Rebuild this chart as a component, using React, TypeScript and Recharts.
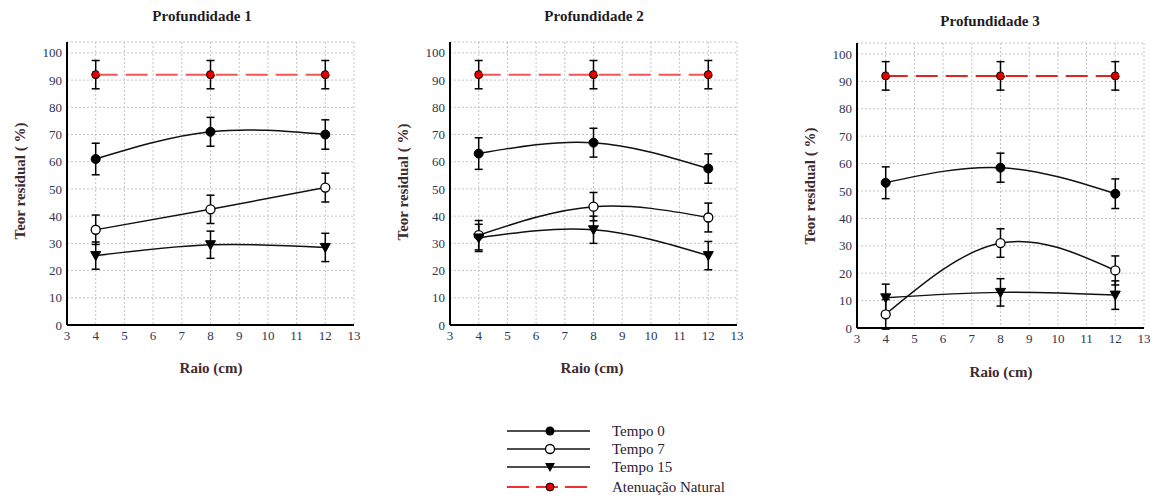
import { LineChart, Line, XAxis, YAxis, CartesianGrid, ErrorBar } from "recharts";

// raio (cm) where samples were taken
const RAIO = [4, 8, 12];

// Profundidade 1
const P1_T0 = [61, 71, 70];
const P1_T7 = [35, 42.5, 50.5];
const P1_T15 = [25.5, 29.5, 28.5];
const P1_AN = [92, 92, 92];

// Profundidade 2
const P2_T0 = [63, 67, 57.5];
const P2_T7 = [33, 43.5, 39.5];
const P2_T15 = [32, 35, 25.5];
const P2_AN = [92, 92, 92];

// Profundidade 3
const P3_T0 = [53, 58.5, 49];
const P3_T7 = [5, 31, 21];
const P3_T15 = [11, 13, 12];
const P3_AN = [92, 92, 92];

// error bar half-lengths
const ERR_T0 = [5.8, 5.3, 5.4];
const ERR_T7 = [5.4, 5.2, 5.3];
const ERR_T15 = [5, 5, 5.2];
const ERR_AN = [5.2, 5.2, 5.2];

const X_TICKS = [3, 4, 5, 6, 7, 8, 9, 10, 11, 12, 13];
const Y_TICKS = [0, 10, 20, 30, 40, 50, 60, 70, 80, 90, 100];
const X_MINOR = Array.from({ length: 51 }, (_, i) => 3 + i * 0.2);
const Y_MINOR = Array.from({ length: 53 }, (_, i) => i * 2);

const SERIF = "'Liberation Serif', 'Times New Roman', serif";
const TICK_COLOR = "#2e3550";
const LABEL_COLOR = "#3f2a2e";

function buildRows(t0: number[], t7: number[], t15: number[], an: number[]) {
  return RAIO.map((r, i) => ({
    raio: r,
    t0: t0[i],
    t0e: ERR_T0[i],
    t7: t7[i],
    t7e: ERR_T7[i],
    t15: t15[i],
    t15e: ERR_T15[i],
    an: an[i],
    ane: ERR_AN[i],
  }));
}

function TriangleDot(props: any) {
  const { cx, cy, index } = props;
  if (cx == null || cy == null) return <g key={`tri-${index}`} />;
  return (
    <path
      key={`tri-${index}`}
      d={`M${cx - 5},${cy - 4} L${cx + 5},${cy - 4} L${cx},${cy + 5} Z`}
      fill="#000"
      stroke="#000"
      strokeWidth={1}
    />
  );
}

interface PanelProps {
  title: string;
  rows: ReturnType<typeof buildRows>;
  left: number;
  top: number;
  height: number;
  marginTop: number;
  red: string;
  titleX: number;
  titleY: number;
  yLabelX: number;
  yLabelY: number;
  xLabelX: number;
  xLabelY: number;
}

function Panel(p: PanelProps) {
  const minorAxis = {
    type: "number" as const,
    domain: [3, 13],
    ticks: X_MINOR,
    interval: 0 as const,
    tick: false,
    tickSize: 3,
    mirror: true,
    height: 0,
    allowDataOverflow: true,
    axisLine: { stroke: "#000", strokeWidth: 2 },
    tickLine: { stroke: "#000", strokeWidth: 1 },
  };
  const minorY = {
    type: "number" as const,
    domain: [0, 104],
    ticks: Y_MINOR,
    interval: 0 as const,
    tick: false,
    tickSize: 3,
    mirror: true,
    width: 0,
    allowDataOverflow: true,
    axisLine: { stroke: "#000", strokeWidth: 2 },
    tickLine: { stroke: "#000", strokeWidth: 1 },
  };
  return (
    <>
      <div
        style={{
          position: "absolute",
          left: p.titleX,
          top: p.titleY,
          transform: "translate(-50%, -50%)",
          fontFamily: SERIF,
          fontWeight: "bold",
          fontSize: 15,
          color: "#1d1d24",
          whiteSpace: "nowrap",
        }}
      >
        {p.title}
      </div>
      <div
        style={{
          position: "absolute",
          left: p.yLabelX,
          top: p.yLabelY,
          transform: "translate(-50%, -50%) rotate(-90deg)",
          fontFamily: SERIF,
          fontWeight: "bold",
          fontSize: 15,
          color: LABEL_COLOR,
          whiteSpace: "nowrap",
        }}
      >
        Teor residual ( %)
      </div>
      <div
        style={{
          position: "absolute",
          left: p.xLabelX,
          top: p.xLabelY,
          transform: "translate(-50%, -50%)",
          fontFamily: SERIF,
          fontWeight: "bold",
          fontSize: 15,
          color: LABEL_COLOR,
          whiteSpace: "nowrap",
        }}
      >
        Raio (cm)
      </div>
      <div style={{ position: "absolute", left: p.left, top: p.top }}>
        <LineChart
          width={370}
          height={p.height}
          data={p.rows}
          margin={{ top: p.marginTop, right: 16, left: 20, bottom: 20 }}
        >
          <CartesianGrid stroke="#c4c4c4" strokeDasharray="2 2" />
          <XAxis
            dataKey="raio"
            type="number"
            domain={[3, 13]}
            ticks={X_TICKS}
            interval={0}
            height={45}
            tickSize={0}
            tickMargin={6}
            tickLine={false}
            axisLine={{ stroke: "#000", strokeWidth: 2 }}
            tick={{ fontSize: 13, fill: TICK_COLOR, fontFamily: SERIF }}
            allowDataOverflow
          />
          <YAxis
            type="number"
            domain={[0, 104]}
            ticks={Y_TICKS}
            interval={0}
            width={47}
            tickSize={0}
            tickMargin={5}
            tickLine={false}
            axisLine={{ stroke: "#000", strokeWidth: 2 }}
            tick={{ fontSize: 13, fill: TICK_COLOR, fontFamily: SERIF }}
            allowDataOverflow
          />
          <XAxis xAxisId="xb" orientation="bottom" {...minorAxis} />
          <XAxis xAxisId="xt" orientation="top" {...minorAxis} />
          <YAxis yAxisId="yl" orientation="left" {...minorY} />
          <YAxis yAxisId="yr" orientation="right" {...minorY} />

          <Line
            type="natural"
            dataKey="t0"
            stroke="#111"
            strokeWidth={1.5}
            dot={{ r: 4.5, fill: "#000", stroke: "#000", strokeWidth: 1 }}
            isAnimationActive={false}
          >
            <ErrorBar dataKey="t0e" direction="y" width={4} stroke="#000" strokeWidth={1.5} />
          </Line>
          <Line
            type="natural"
            dataKey="t7"
            stroke="#111"
            strokeWidth={1.5}
            dot={{ r: 4.5, fill: "#fff", stroke: "#000", strokeWidth: 1.3 }}
            isAnimationActive={false}
          >
            <ErrorBar dataKey="t7e" direction="y" width={4} stroke="#000" strokeWidth={1.5} />
          </Line>
          <Line
            type="natural"
            dataKey="t15"
            stroke="#111"
            strokeWidth={1.5}
            dot={TriangleDot}
            isAnimationActive={false}
          >
            <ErrorBar dataKey="t15e" direction="y" width={4} stroke="#000" strokeWidth={1.5} />
          </Line>
          <Line
            type="linear"
            dataKey="an"
            stroke={p.red}
            strokeWidth={2}
            strokeDasharray="22 8"
            dot={{ r: 4, fill: "#e00000", stroke: "#000", strokeWidth: 1 }}
            isAnimationActive={false}
          >
            <ErrorBar dataKey="ane" direction="y" width={4} stroke="#000" strokeWidth={1.5} />
          </Line>
        </LineChart>
      </div>
    </>
  );
}

function LegendBox() {
  const items = [
    { label: "Tempo 0", y: 431, kind: "filled" },
    { label: "Tempo 7", y: 449, kind: "open" },
    { label: "Tempo 15", y: 467, kind: "tri" },
    { label: "Atenuação Natural", y: 487, kind: "red" },
  ];
  return (
    <svg
      width={260}
      height={80}
      style={{ position: "absolute", left: 500, top: 420, overflow: "visible" }}
    >
      {items.map((it) => {
        const y = it.y - 420;
        const mx = 50;
        return (
          <g key={it.label}>
            {it.kind === "red" ? (
              <line x1={7} y1={y} x2={90} y2={y} stroke="#f03030" strokeWidth={2} strokeDasharray="22 7" />
            ) : (
              <line x1={7} y1={y} x2={90} y2={y} stroke="#111" strokeWidth={1.5} />
            )}
            {it.kind === "filled" && <circle cx={mx} cy={y} r={4.5} fill="#000" />}
            {it.kind === "open" && <circle cx={mx} cy={y} r={4.5} fill="#fff" stroke="#000" strokeWidth={1.3} />}
            {it.kind === "tri" && (
              <path d={`M${mx - 5},${y - 4} L${mx + 5},${y - 4} L${mx},${y + 5} Z`} fill="#000" />
            )}
            {it.kind === "red" && <circle cx={mx} cy={y} r={4} fill="#e00000" stroke="#000" strokeWidth={1} />}
            <text
              x={112}
              y={y}
              dominantBaseline="central"
              fontFamily={SERIF}
              fontSize={15}
              fill="#1f2235"
            >
              {it.label}
            </text>
          </g>
        );
      })}
    </svg>
  );
}

export default function App() {
  return (
    <div
      style={{
        position: "absolute",
        left: 0,
        top: 0,
        width: 1156,
        height: 499,
        background: "#fff",
        overflow: "hidden",
      }}
    >
      <Panel
        title="Profundidade 1"
        rows={buildRows(P1_T0, P1_T7, P1_T15, P1_AN)}
        left={0}
        top={0}
        height={390}
        marginTop={42}
        red="#f25555"
        titleX={202}
        titleY={16}
        yLabelX={20}
        yLabelY={181}
        xLabelX={211}
        xLabelY={368}
      />
      <Panel
        title="Profundidade 2"
        rows={buildRows(P2_T0, P2_T7, P2_T15, P2_AN)}
        left={383}
        top={0}
        height={390}
        marginTop={42}
        red="#f25555"
        titleX={594}
        titleY={16}
        yLabelX={403}
        yLabelY={182}
        xLabelX={592}
        xLabelY={368}
      />
      <Panel
        title="Profundidade 3"
        rows={buildRows(P3_T0, P3_T7, P3_T15, P3_AN)}
        left={790}
        top={0}
        height={393}
        marginTop={43}
        red="#e32222"
        titleX={990}
        titleY={21}
        yLabelX={810}
        yLabelY={186}
        xLabelX={1001}
        xLabelY={372}
      />
      <LegendBox />
    </div>
  );
}
